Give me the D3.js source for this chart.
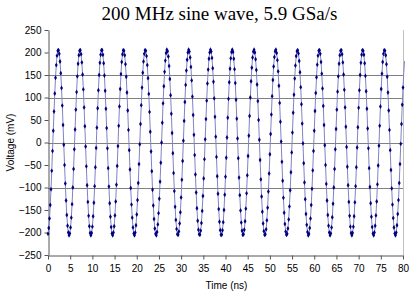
<!DOCTYPE html>
<html>
<head>
<meta charset="utf-8">
<script src="https://cdnjs.cloudflare.com/ajax/libs/d3/7.8.5/d3.min.js"></script>
<style>
body { margin: 0; background: #fff; }
svg text { font-family: Arial, "Liberation Sans", sans-serif; }
</style>
</head>
<body>
<svg id="drawing_region"></svg>
<script>
const title = '200 MHz sine wave, 5.9 GSa/s';
const xlabel = 'Time (ns)';
const ylabel = 'Voltage (mV)';
const sampleRate = 5.9; // GSa/s, one sample every 1/5.9 ns

// sampled voltage in mV, one row per cycle of the wave
const voltage = [
 -203,-190,-169,-139,-104,-63,-19,26,69,109,144,172,193,204,205,197,180,154,121,82,39,-5,-50,-91,-129,-161,-185,-200,-206,
 -202,-189,-167,-137,-100,-59,-15,29,73,112,147,175,194,204,205,196,178,151,118,78,36,-9,-53,-95,-132,-163,-186,-201,-206,
 -201,-187,-164,-134,-97,-55,-12,33,76,116,150,177,195,205,205,195,176,149,115,75,32,-13,-57,-98,-135,-165,-188,-202,-206,
 -200,-186,-162,-131,-94,-52,-8,37,80,119,152,179,196,205,204,194,174,146,111,71,28,-17,-60,-101,-138,-167,-189,-202,-206,
 -200,-184,-160,-128,-90,-48,-4,41,83,122,155,180,197,205,204,192,172,143,108,68,24,-20,-64,-105,-140,-170,-191,-203,-206,
 -199,-182,-157,-125,-87,-45,0,44,87,125,157,182,199,206,203,191,170,141,105,64,21,-24,-68,-108,-143,-172,-192,-204,-205,
 -198,-180,-155,-122,-83,-41,4,48,90,128,160,184,200,206,202,189,168,138,102,61,17,-28,-71,-111,-146,-174,-194,-204,-205,
 -196,-179,-152,-119,-80,-37,7,52,93,131,162,186,200,206,202,188,165,135,98,57,13,-32,-75,-114,-148,-176,-195,-205,-205,
 -195,-177,-150,-116,-76,-34,11,55,97,134,164,187,201,206,201,186,163,132,95,53,9,-35,-78,-117,-151,-178,-196,-205,-204,
 -194,-175,-147,-113,-73,-30,15,59,100,136,166,189,202,206,200,185,161,129,92,50,6,-39,-82,-120,-154,-180,-197,-205,-204,
 -193,-173,-145,-109,-69,-26,19,62,103,139,169,190,203,206,199,183,158,126,88,46,2,-43,-85,-123,-156,-181,-198,-205,-203,
 -191,-171,-142,-106,-66,-22,22,66,106,142,171,192,203,205,198,181,156,123,85,42,-2,-46,-89,-126,-159,-183,-199,-206,-203,
 -190,-169,-139,-103,-62,-19,26,70,110,145,173,193,204,205,197,179,153,120,81,39,-6,-50,-92,-129,-161,-185,-200,-206,-202,
 -189,-166,-136,-100,-59,-15,30,73,113,147,175,194,204,205,196,178,151,117,78,35,-10,-54,-95,-132,-163,-187,-201,-206,-201,
 -187,-164,-133,-97,-55,-11,34,77,116,150,177,195,205,204,195,176,148,114,75,31,-13,-57,-99,-135,-165,-188,-202,-206,-200,
 -185,-162,-131,-93,-51,-7,37,80,119,153,179,197,205,204,194,174,146,111,71,28,-17,-61,-102,-138,-168,-189,-202,-206,-200,
 -184,-159,-128,-90,-48,-3,41,84,122,155,181
];

const xTicks = [0, 5, 10, 15, 20, 25, 30, 35, 40, 45, 50, 55, 60, 65, 70, 75, 80];
const yTicks = [-250, -200, -150, -100, -50, 0, 50, 100, 150, 200, 250];
const gridValues = [150, 100, 0, -100];

class LinechartPlot {

    constructor( config, data ) {
        this.config = config;
        this.data = data;
        this.init();
    }

    init() {
        let self = this;

        self.svg = d3.select( self.config.parent )
            .attr('width', self.config.width)
            .attr('height', self.config.height);

        self.inner_width = self.config.width - self.config.margin.left - self.config.margin.right;
        self.inner_height = self.config.height - self.config.margin.top - self.config.margin.bottom;

        self.chart = self.svg.append('g')
            .attr('transform', `translate(${self.config.margin.left}, ${self.config.margin.top})`);

        self.xscale = d3.scaleLinear()
            .domain([0, 80])
            .range([0, self.inner_width]);

        self.yscale = d3.scaleLinear()
            .domain([-250, 250])
            .range([self.inner_height, 0]);

        self.xaxis = d3.axisBottom(self.xscale)
            .tickValues(xTicks)
            .tickSize(4)
            .tickPadding(5)
            .tickSizeOuter(0);

        self.yaxis = d3.axisLeft(self.yscale)
            .tickValues(yTicks)
            .tickSize(4)
            .tickPadding(3)
            .tickSizeOuter(0);
    }

    render() {
        let self = this;

        // grid
        self.chart.selectAll('.grid')
            .data(gridValues)
            .enter()
            .append('line')
            .attr('x1', 0)
            .attr('x2', self.inner_width)
            .attr('y1', d => Math.round(self.yscale(d)) + 0.5)
            .attr('y2', d => Math.round(self.yscale(d)) + 0.5)
            .attr('stroke', '#808080')
            .attr('stroke-width', 1);

        // right border of plot area
        self.chart.append('line')
            .attr('x1', self.inner_width + 0.5)
            .attr('x2', self.inner_width + 0.5)
            .attr('y1', 0)
            .attr('y2', self.inner_height)
            .attr('stroke', '#c0c0c0');

        let xg = self.chart.append('g')
            .attr('transform', `translate(0, ${self.inner_height + 0.5})`)
            .call(self.xaxis);
        let yg = self.chart.append('g')
            .attr('transform', 'translate(0.5, 0)')
            .call(self.yaxis);

        [xg, yg].forEach(g => {
            g.selectAll('path, line').attr('stroke', '#555');
            g.selectAll('text').attr('font-size', '10px').attr('fill', '#000');
        });

        const line = d3.line()
            .x(d => self.xscale(d.t))
            .y(d => self.yscale(d.v));

        self.chart.append('path')
            .datum(self.data)
            .attr('fill', 'none')
            .attr('stroke', '#8282c4')
            .attr('stroke-width', 1)
            .attr('d', line);

        self.chart.selectAll('.marker')
            .data(self.data.filter(d => d.t <= 80.0001))
            .enter()
            .append('path')
            .attr('transform', d => `translate(${self.xscale(d.t)}, ${self.yscale(d.v)})`)
            .attr('d', d3.symbol().type(d3.symbolDiamond).size(7))
            .attr('fill', '#000080');

        self.svg.append('text')
            .attr('x', self.config.margin.left + self.inner_width / 2 - 6)
            .attr('y', 20)
            .attr('text-anchor', 'middle')
            .style('font-family', '"Liberation Serif", "Times New Roman", serif')
            .style('font-size', '19px')
            .text(self.config.title);

        self.svg.append('text')
            .attr('x', self.config.margin.left + self.inner_width / 2 + 1)
            .attr('y', 289)
            .attr('text-anchor', 'middle')
            .attr('font-size', '10px')
            .text(self.config.xlabel);

        self.svg.append('text')
            .attr('transform', `translate(14, ${self.config.margin.top + self.inner_height / 2}) rotate(-90)`)
            .attr('text-anchor', 'middle')
            .attr('font-size', '10px')
            .text(self.config.ylabel);
    }
}

let data = voltage.map((v, i) => ({ t: i / sampleRate, v: v }));

let config = {
    parent: '#drawing_region',
    width: 414,
    height: 294,
    margin: {top: 30, right: 11, bottom: 39, left: 48},
    title: title,
    xlabel: xlabel,
    ylabel: ylabel,
};

let linechart_plot = new LinechartPlot( config, data );
linechart_plot.render();
</script>
</body>
</html>
